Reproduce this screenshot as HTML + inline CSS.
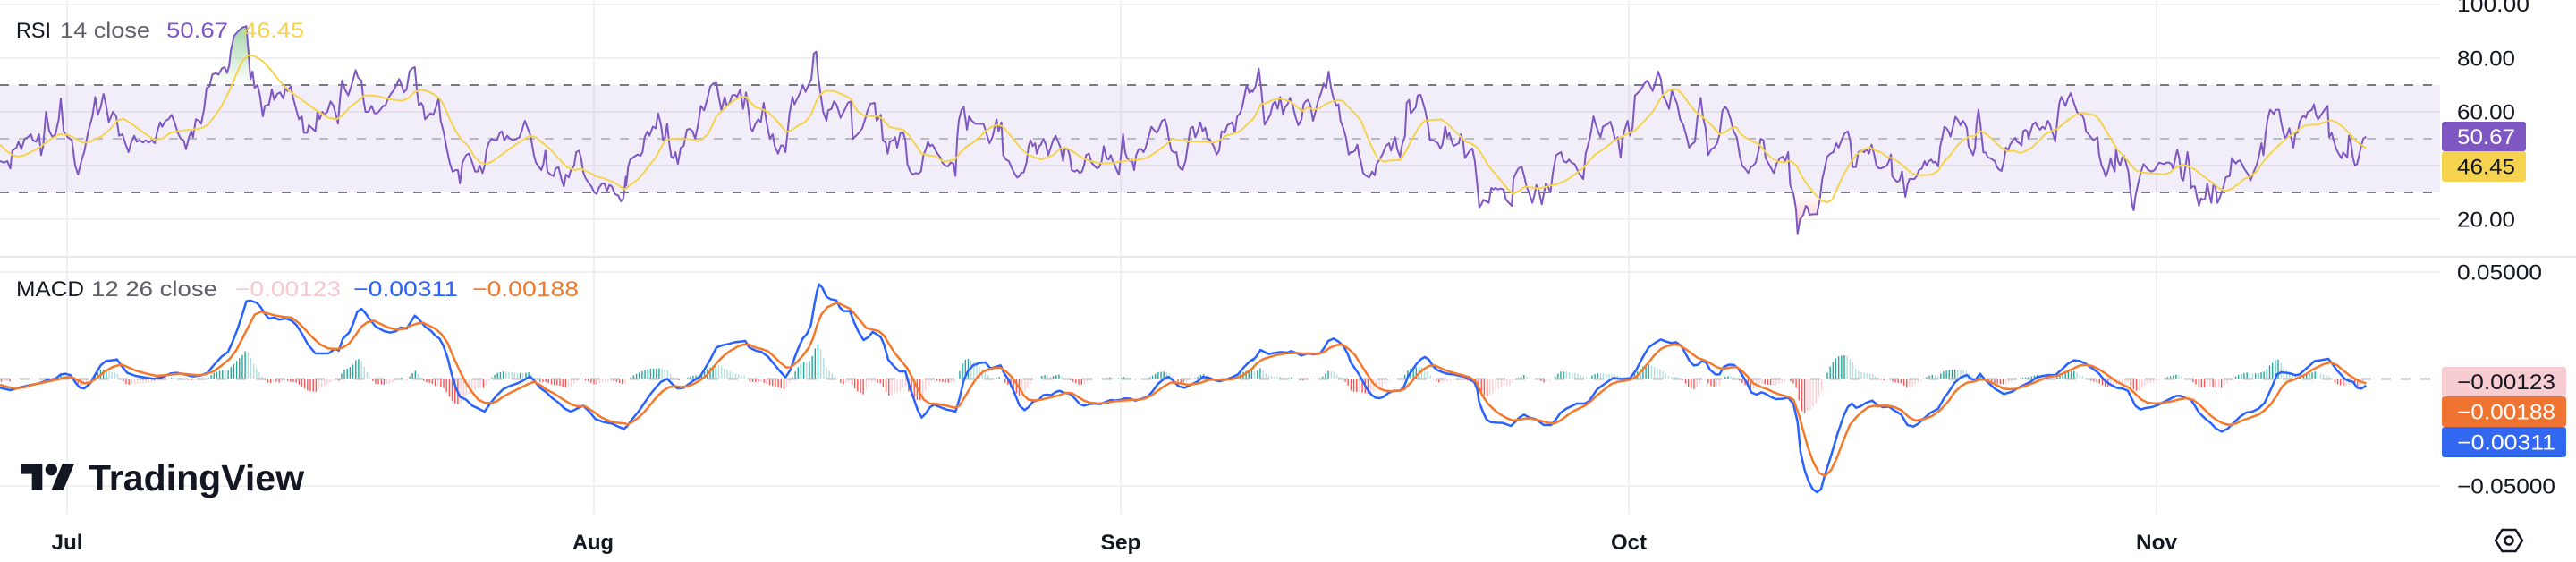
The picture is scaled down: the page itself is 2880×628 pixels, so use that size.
<!DOCTYPE html>
<html><head><meta charset="utf-8"><style>html,body{margin:0;padding:0;background:#fff}svg{display:block}text{font-family:"Liberation Sans",sans-serif}</style></head>
<body>
<svg xmlns="http://www.w3.org/2000/svg" width="2880" height="628" viewBox="0 0 2880 628">
<defs>
<polyline id="ra" vector-effect="non-scaling-stroke" points="0,540 10,545 18,540 25,565 30,505 40,495 45,475 52,500 60,465 68,460 75,450 80,470 88,475 95,450 100,520 105,490 112,375 120,440 128,460 135,450 143,400 148,330 155,440 165,460 175,470 183,555 190,585 200,530 205,510 215,440 225,390 232,325 238,385 245,360 252,315 258,350 265,410 275,375 283,390 290,455 298,450 305,480 313,510 320,475 327,455 333,475 340,470 348,478 355,470 362,478 370,470 377,480 383,440 390,410 395,425 403,405 410,400 418,385 425,410 433,445 440,465 447,470 453,500 460,460 466,440 470,460 477,400 485,405 490,415 497,365 503,295 510,290 517,250 525,245 532,250 540,230 547,225 553,245 558,220 562,170 570,120 580,105 590,92 600,88 605,175 610,265 615,240 620,295 627,285 633,320 640,390 645,355 655,350 662,300 668,335 675,315 682,310 690,330 695,295 700,305 708,290 715,335 722,370 728,400 735,390 740,445 748,445 752,420 760,430 768,440 773,375 778,400 785,375 790,385 797,375 805,340 812,355 818,385 823,415 828,330 833,270 840,300 848,320 855,290 860,265 866,235 872,260 880,270 885,335 890,375 897,375 905,355 912,380 918,380 925,370 933,355 938,355 945,330 952,315 960,300 967,280 972,265 978,285 983,310 990,300 997,240 1003,230 1010,225 1015,300 1020,355 1025,345 1030,355 1035,400 1042,390 1048,380 1055,385 1060,365 1068,330 1073,405 1080,440 1088,500 1095,545 1102,575 1110,570 1115,570 1120,615 1126,545 1135,520 1142,515 1150,545 1157,575 1163,575 1168,555 1175,580 1180,555 1185,500 1190,480 1197,465 1203,470 1210,470 1217,445 1222,440 1228,470 1235,455 1242,465 1250,470 1258,465 1265,460 1270,440 1278,405 1285,430 1292,455 1300,520 1305,545 1310,555 1318,570 1323,550 1328,505 1333,575 1340,585 1348,590 1353,565 1360,560 1367,600 1373,625 1378,585 1385,595 1390,570 1398,555 1403,510 1410,505 1415,530 1420,575 1425,595 1432,610 1440,625 1447,645 1453,650 1458,630 1466,615 1472,615 1478,640 1484,620 1490,625 1497,650 1505,655 1512,675 1518,665 1524,590"/>
<polyline id="rb" vector-effect="non-scaling-stroke" points="0,625 5,560 10,535 20,525 28,518 35,522 40,510 45,460 52,440 57,455 65,425 72,430 78,380 85,420 90,470 95,460 100,415 105,480 110,525 115,530 120,510 126,550 133,495 140,490 148,435 155,432 162,440 168,465 175,420 182,355 190,370 197,335 205,290 212,280 220,278 225,320 232,370 240,325 245,355 252,345 258,320 265,318 270,325 278,300 285,365 292,310 298,370 303,430 308,440 315,415 322,400 328,410 335,345 342,410 350,465 357,450 362,490 370,515 377,488 383,488 388,510 393,445 398,380 405,325 410,350 417,330 424,310 430,285 437,308 444,285 451,265 457,180 463,173 468,260 475,330 480,375 488,405 492,370 500,365 506,340 512,350 518,375 522,395 528,380 535,360 540,345 547,340 552,465 560,455 567,445 575,430 582,400 588,370 595,348 605,345 610,405 615,395 620,385 625,470 632,478 637,515 642,475 650,470 655,460 660,495 668,445 675,445 680,470 685,550 692,575 698,585 705,580 712,582 718,575 724,520 730,500 735,475 740,490 746,485 752,500 758,515 764,525 770,545 777,555 784,558 790,545 797,548 802,590 806,465 810,405 816,370 822,358 830,435 835,390 842,405 850,415 860,415 870,415 875,435 880,460 885,480 892,460 897,430 902,400 907,440 914,410 918,520 925,535 932,540 938,560 945,580 952,595 958,590 962,580 968,578 975,545 980,490 985,470 990,490 996,480 1000,515 1006,490 1010,485 1016,465 1022,485 1028,520 1035,490 1040,470 1046,455 1052,475 1058,495 1064,540 1068,500 1075,498 1080,520 1085,570 1092,575 1098,570 1105,580 1110,575 1115,555 1120,520 1127,515 1133,545 1140,555 1147,565 1152,560 1158,540 1163,490 1170,530 1175,535 1180,520 1185,540 1190,555 1196,575 1200,585 1205,520 1210,450 1215,510 1220,530 1227,540 1232,535 1237,570 1242,520 1248,500 1255,500 1260,510 1265,495 1272,460 1279,425 1285,435 1292,445 1298,430 1305,405 1312,400 1317,425 1322,470 1328,505 1335,512 1340,510 1345,555 1350,565 1355,570 1362,540 1368,485 1374,430 1380,425 1386,460 1392,440 1398,410 1404,440 1410,428 1416,465 1422,470 1430,488 1438,518 1444,505 1450,440 1458,445 1464,420 1470,415 1476,410 1482,445 1488,390 1495,380 1500,360 1506,320 1511,285 1518,312 1525,302"/>
<polyline id="rc" vector-effect="non-scaling-stroke" points="0,310 8,290 16,230 22,300 30,418 38,400 44,385 50,350 56,340 62,365 68,325 75,382 80,360 86,350 92,328 98,350 105,390 112,420 120,400 125,350 130,340 136,335 142,355 148,405 155,370 160,340 168,310 174,280 180,295 186,240 192,295 198,330 205,355 210,350 215,405 222,430 228,460 235,518 240,510 245,510 250,505 256,485 260,520 265,545 270,580 278,590 285,595 292,575 298,588 303,550 310,535 318,515 325,490 333,480 338,505 343,480 348,460 353,500 360,525 365,485 372,455 376,345 382,335 386,380 392,370 398,360 403,320 410,318 416,345 422,375 428,420 433,470 440,470 447,475 452,480 458,498 463,485 470,425 475,460 480,445 485,470 490,490 496,485 503,480 508,450 513,470 518,530 525,515 530,505 536,498 542,540 548,620 553,695 558,685 563,670 570,675 576,680 582,630 587,635 592,630 598,635 605,632 612,635 618,670 625,680 632,690 636,600 642,580 648,565 656,558 662,590 668,625 675,650 682,680 687,655 692,620 698,640 705,685 710,650 715,615 720,625 726,645 732,580 740,520 746,515 752,510 758,540 765,545 771,535 778,545 785,550 792,570 798,585 806,600 812,515 818,485 824,450 831,390 836,415 842,440 848,460 854,425 860,420 866,415 872,408 878,435 884,470 890,460 897,528 902,460 907,435 914,405 920,455 926,430 932,320 940,310 947,300 955,280 962,270 968,285 975,305 982,275 988,240 995,265 1000,320 1008,340 1015,365 1022,305 1028,325 1035,350 1042,400 1050,420 1058,460 1064,495 1070,485 1078,475 1084,395 1092,328 1098,395 1104,430 1110,520 1118,500 1125,495 1132,480 1138,450 1145,370 1152,358 1158,370 1165,400 1172,440 1180,460 1187,520 1193,555 1200,565 1208,580 1214,560 1220,555 1226,545 1233,505 1238,465 1245,470 1250,530 1256,545 1262,560 1270,580 1278,545 1285,530 1292,525 1298,540 1305,510 1310,620 1318,650 1324,700 1328,785 1334,735 1342,720 1348,690 1352,695 1357,720 1365,718 1375,718 1382,670 1388,600 1394,565 1400,525 1408,515 1415,510 1422,480 1428,495 1435,470 1442,448 1450,440 1456,470 1462,560 1470,560 1476,510 1482,505 1490,510 1496,500 1502,515 1508,485 1514,515 1520,555 1527,565"/>
<polyline id="rd" vector-effect="non-scaling-stroke" points="172,562 180,565 188,560 195,555 200,540 205,518 208,590 213,600 220,610 226,605 232,575 236,620 240,660 245,620 250,600 255,600 262,600 268,590 273,570 280,565 287,540 292,555 297,540 303,535 308,545 313,542 320,558 325,490 330,460 335,425 340,430 345,440 350,458 355,430 362,392 368,402 374,420 380,405 385,415 390,430 394,490 400,505 405,520 410,495 413,420 418,368 423,420 430,510 436,512 441,528 447,530 452,535 458,540 463,560 468,568 474,573 480,540 485,495 490,505 495,485 502,470 508,462 512,475 518,480 523,488 527,440 532,435 537,440 540,465 545,440 550,418 557,410 562,425 568,435 574,425 580,432 587,405 592,418 597,440 601,455 605,475 610,405 615,345 620,325 625,340 630,355 636,330 643,312 648,335 653,355 658,375 665,385 670,385 675,400 680,440 686,450 692,460 698,470 703,465 708,460 712,520 718,555 723,570 728,592 734,570 740,530 744,555 750,575 753,500 758,540 763,555 768,528 773,522 778,550 783,575 788,640 792,685 796,705 800,660 806,620 813,580 820,550 826,560 832,570 840,575 847,570 853,555 858,545 865,548 870,550 876,545 882,545 888,550 892,568 898,525 902,502 907,530 912,595 917,605 922,560 927,510 932,560 936,630 940,625 945,625 950,660 955,690 960,665 965,670 970,665 975,615 980,650 985,680 990,620 995,625 1000,680 1005,665 1010,645 1015,625 1020,595 1025,592 1030,590 1035,530 1040,540 1045,548 1050,540 1055,538 1060,550 1065,565 1070,575 1075,585 1080,605 1085,590 1090,570 1095,555 1100,530 1107,480 1112,520 1117,450 1122,400 1128,368 1133,375 1137,382 1142,368 1150,368 1155,410 1160,440 1165,468 1170,450 1175,430 1180,465 1185,495 1190,445 1195,445 1200,410 1205,395 1210,388 1215,395 1220,375 1225,372 1230,368 1235,350 1240,385 1245,400 1250,390 1255,380 1260,370 1265,360 1268,355 1272,460 1278,445 1283,470 1288,495 1293,510 1298,522 1302,530 1306,512 1312,520 1316,528 1320,455 1325,480 1330,530 1335,555 1340,550 1345,520 1350,490 1355,465 1362,458"/>
<polyline id="ya" vector-effect="non-scaling-stroke" points="0,485 15,505 30,520 45,525 60,520 75,510 95,495 110,480 125,465 145,450 165,452 185,465 200,478 215,478 230,468 250,455 270,430 285,405 300,398 315,410 335,430 355,450 375,468 395,465 415,445 440,438 465,435 490,430 505,420 520,395 540,355 560,300 575,250 590,205 605,185 620,188 640,205 660,235 680,270 700,300 720,320 740,340 760,360 780,378 800,395 820,400 835,385 850,362 870,340 885,322 900,320 920,322 940,330 960,335 980,338 995,328 1010,308 1025,302 1040,305 1055,315 1070,330 1080,350 1095,400 1110,440 1125,470 1140,490 1155,525 1170,545 1185,550 1200,540 1215,525 1230,510 1250,490 1270,472 1290,455 1305,460 1320,478 1340,500 1360,530 1380,560 1400,570 1415,565 1430,575 1450,590 1470,598 1490,608 1505,620 1520,635 1525,632"/>
<polyline id="yb" vector-effect="non-scaling-stroke" points="0,632 15,615 30,600 45,575 60,548 72,528 85,495 95,470 110,465 130,466 150,466 165,468 175,474 185,468 200,448 210,420 220,388 235,370 250,350 265,335 280,325 292,325 300,338 315,360 330,365 345,375 360,395 375,418 390,443 405,435 420,420 435,410 450,385 460,350 470,320 485,305 505,305 520,313 535,322 548,332 555,355 565,375 580,388 600,390 615,390 625,400 640,425 655,430 675,435 690,455 705,485 720,515 735,520 755,525 770,540 785,540 800,535 815,510 830,490 845,478 860,460 875,440 890,425 905,418 918,425 930,445 945,470 960,495 975,515 990,525 1010,535 1025,528 1040,520 1055,500 1070,495 1085,505 1100,520 1115,532 1130,540 1150,546 1170,548 1190,545 1210,540 1230,537 1250,535 1270,528 1290,510 1310,490 1330,466 1350,470 1370,474 1390,474 1410,475 1430,478 1445,470 1460,455 1480,448 1495,440 1510,420 1525,400"/>
<polyline id="yc" vector-effect="non-scaling-stroke" points="0,405 10,380 20,350 35,345 50,335 65,330 80,335 95,342 110,360 122,372 135,360 150,368 165,362 180,348 195,340 210,335 222,340 235,360 250,380 265,405 275,440 290,490 305,530 320,542 335,538 350,537 362,535 375,505 390,465 405,428 420,405 440,402 460,400 475,415 490,435 505,455 520,475 535,482 548,495 560,520 575,555 590,580 605,605 620,630 635,650 650,640 665,625 680,628 695,632 710,628 725,622 740,618 760,608 775,595 790,580 805,565 820,540 835,518 850,505 865,490 880,472 895,462 905,455 918,445 930,440 945,420 960,398 975,375 990,340 1000,318 1012,305 1025,298 1035,300 1050,320 1065,350 1080,375 1095,390 1110,408 1125,430 1138,450 1150,445 1165,430 1178,425 1190,450 1205,465 1220,475 1235,485 1250,510 1265,530 1280,542 1295,545 1310,538 1325,555 1340,595 1355,625 1370,650 1385,672 1400,678 1412,670 1425,630 1440,585 1455,550 1470,520 1490,500 1505,495 1520,505 1527,510"/>
<polyline id="yd" vector-effect="non-scaling-stroke" points="172,507 180,510 195,525 210,532 225,545 240,562 255,580 270,587 290,587 305,585 320,572 335,540 350,520 365,490 380,470 395,458 410,455 420,438 432,445 445,458 460,478 475,497 490,507 505,505 520,513 535,505 550,493 565,472 580,450 595,440 610,432 625,415 640,398 655,385 670,378 685,382 700,385 712,400 725,430 740,465 755,500 770,520 785,545 800,570 815,578 830,580 850,582 870,585 885,578 900,560 915,552 930,558 945,568 960,585 975,600 990,615 1005,632 1020,640 1035,632 1050,618 1065,600 1080,592 1095,575 1110,545 1125,520 1140,500 1155,480 1170,462 1185,448 1200,432 1215,420 1230,418 1245,418 1260,410 1275,403 1290,410 1305,425 1320,445 1335,470 1350,485 1362,497"/>
<polyline id="eb" vector-effect="non-scaling-stroke" points="0,460 25,468 45,460 70,452 95,445 115,435 135,430 148,415 160,413 172,418 185,445 195,460 205,462 220,445 232,415 245,385 258,370 272,368 285,365 295,385 310,410 330,420 350,425 375,430 395,425 415,412 430,410 450,415 470,422 490,418 505,410 520,385 540,355 555,340 565,310 578,265 590,215 600,170 610,168 625,175 635,190 645,212 655,228 668,225 680,232 695,228 710,235 722,250 735,278 750,315 768,345 785,345 800,345 815,330 825,335 835,295 850,275 860,245 870,205 880,195 890,210 900,230 915,255 935,270 950,275 965,270 975,258 990,262 1000,240 1010,218 1020,230 1035,255 1050,270 1060,285 1070,295 1080,320 1090,360 1100,415 1110,460 1120,490 1135,500 1150,520 1165,530 1180,540 1195,510 1210,485 1225,465 1240,455 1260,445 1275,435 1290,422 1300,435 1315,460 1330,475 1345,495 1360,510 1375,530 1390,540 1405,530 1420,520 1435,540 1450,565 1470,575 1490,580 1505,590 1520,598 1525,590"/>
<polyline id="eo" vector-effect="non-scaling-stroke" points="0,450 20,458 40,462 60,458 80,450 100,444 120,438 140,432 160,425 175,425 190,435 205,445 220,442 235,428 255,405 275,390 295,382 310,390 330,402 355,412 380,420 400,418 420,415 440,412 460,415 480,418 500,415 520,405 540,385 560,362 575,335 590,295 605,255 620,215 635,205 650,210 670,218 690,222 710,225 725,240 740,260 760,290 780,315 800,328 820,330 835,325 850,312 865,285 880,255 895,240 910,235 925,245 945,258 965,265 985,262 1000,252 1015,245 1030,242 1045,252 1060,262 1075,280 1090,310 1105,360 1120,405 1135,445 1150,475 1165,500 1180,510 1195,512 1210,505 1225,490 1245,475 1265,462 1285,448 1300,440 1315,450 1330,465 1350,480 1370,498 1390,515 1405,522 1425,522 1445,540 1465,560 1485,572 1505,578 1525,580"/>
<polyline id="fb" vector-effect="non-scaling-stroke" points="0,578 15,550 30,525 45,495 60,465 75,440 85,425 100,415 112,432 125,447 140,445 150,435 165,420 180,408 190,385 205,350 220,310 235,302 250,298 265,292 280,290 290,288 300,310 315,320 330,325 345,340 360,365 375,390 388,410 400,385 410,345 420,310 430,280 440,265 450,235 458,170 465,120 470,98 478,110 488,140 498,148 512,152 520,175 530,188 545,188 555,225 565,255 578,285 590,275 600,258 610,265 620,275 628,300 638,350 650,370 665,390 680,390 690,440 700,480 710,520 720,545 730,530 740,510 750,502 765,510 780,518 795,522 802,525 812,480 822,420 832,390 845,370 860,362 875,360 887,380 900,375 912,370 920,395 932,420 945,460 958,505 970,520 980,510 990,492 1005,485 1015,470 1025,468 1035,470 1045,460 1055,455 1068,462 1080,465 1092,480 1105,500 1115,505 1128,500 1140,498 1155,500 1168,492 1180,486 1192,488 1205,485 1215,480 1228,482 1240,488 1255,482 1270,475 1283,455 1295,432 1310,415 1320,408 1330,418 1345,440 1360,445 1375,435 1390,425 1405,408 1420,412 1435,420 1445,423 1460,418 1475,410 1490,400 1505,375 1520,355 1528,348"/>
<polyline id="fo" vector-effect="non-scaling-stroke" points="0,570 15,560 30,545 45,525 60,500 75,475 90,455 105,443 120,440 135,443 150,440 165,432 180,420 195,405 210,380 225,355 240,335 255,320 270,308 285,300 300,300 315,310 330,315 345,322 360,340 375,360 390,377 400,377 415,360 430,338 445,310 455,280 465,235 475,200 490,175 505,165 515,160 530,170 545,180 558,200 570,220 585,245 600,250 615,255 628,270 640,298 655,330 670,355 685,380 700,420 715,462 725,485 740,498 760,500 780,505 800,512 812,505 825,475 840,440 855,410 870,390 885,382 900,378 912,378 925,390 940,410 955,440 968,470 980,485 995,488 1010,485 1025,480 1040,475 1055,470 1070,462 1085,463 1100,475 1115,488 1130,495 1150,498 1170,495 1190,490 1210,488 1230,486 1250,485 1265,480 1280,470 1295,455 1310,440 1325,428 1340,428 1355,432 1370,435 1385,432 1400,428 1420,418 1440,418 1460,418 1480,415 1500,405 1520,385 1528,378"/>
<polyline id="gb" vector-effect="non-scaling-stroke" points="0,355 10,340 20,318 30,325 40,332 55,328 70,325 85,327 95,322 110,330 120,337 135,330 150,333 165,330 175,312 185,288 198,280 210,290 222,305 232,330 240,360 250,380 260,400 270,425 280,450 290,468 300,478 310,480 320,475 332,462 345,455 360,455 370,440 380,405 390,385 400,365 410,350 420,342 430,350 440,372 450,385 462,392 475,398 490,400 505,405 518,408 530,418 540,425 548,450 552,490 560,520 570,550 580,560 595,562 610,563 620,568 630,573 640,560 650,545 662,535 675,545 690,550 700,560 710,570 728,570 740,550 750,530 765,515 780,505 790,498 810,498 820,490 830,470 840,450 855,435 870,420 880,412 895,415 905,415 920,413 935,385 950,345 965,310 980,295 995,283 1008,290 1020,295 1032,292 1045,305 1055,330 1065,355 1075,370 1085,368 1095,355 1105,360 1115,385 1128,400 1138,400 1148,375 1160,368 1172,368 1182,378 1192,400 1205,430 1215,460 1228,468 1240,460 1250,465 1262,475 1275,483 1290,482 1305,478 1318,500 1328,560 1335,660 1345,720 1355,760 1365,785 1375,795 1385,785 1395,735 1410,670 1425,600 1440,540 1450,510 1460,498 1470,512 1480,508 1495,495 1510,488 1520,500 1528,505"/>
<polyline id="go" vector-effect="non-scaling-stroke" points="0,380 10,365 25,350 40,343 60,335 80,330 100,328 120,330 140,330 160,332 175,325 190,310 205,302 220,300 235,315 250,335 265,368 280,400 295,430 310,448 325,455 340,457 355,455 370,450 385,430 400,405 415,385 430,372 445,370 460,380 475,388 490,395 510,402 530,410 545,425 560,470 575,500 590,520 605,535 620,547 635,555 650,552 665,548 680,548 700,555 720,562 735,565 750,555 765,540 780,525 795,515 810,505 825,490 840,470 860,448 875,432 890,425 905,422 920,418 935,408 950,385 965,360 980,335 995,315 1010,305 1025,300 1040,302 1055,315 1070,330 1085,345 1100,352 1115,362 1130,375 1145,382 1160,378 1178,375 1190,385 1205,405 1220,430 1235,440 1255,450 1270,460 1285,468 1305,475 1318,485 1330,530 1340,580 1352,640 1365,690 1380,730 1395,740 1410,720 1425,675 1440,620 1455,570 1470,545 1485,525 1500,510 1515,505 1528,508"/>
<polyline id="hb" vector-effect="non-scaling-stroke" points="172,502 185,510 200,508 212,520 230,535 245,570 260,575 272,565 285,548 300,530 320,515 335,478 345,460 360,428 375,410 390,402 400,415 410,420 422,398 432,415 445,432 460,450 480,466 500,458 515,445 530,435 545,425 560,410 575,405 590,402 605,403 620,385 635,365 650,353 665,355 680,365 695,380 710,395 725,420 740,435 755,445 770,448 782,455 790,478 800,505 812,518 825,513 840,510 855,503 870,492 885,482 900,472 910,472 920,478 935,485 945,505 955,528 970,548 985,565 995,580 1010,592 1025,582 1040,562 1055,542 1070,528 1085,525 1100,515 1115,495 1125,465 1135,435 1145,400 1155,393 1168,395 1180,398 1190,403 1200,400 1215,382 1225,370 1237,355 1250,353 1262,350 1270,348 1280,365 1290,385 1300,400 1310,415 1320,422 1330,425 1340,445 1350,448 1362,438"/>
<polyline id="ho" vector-effect="non-scaling-stroke" points="172,505 195,505 210,508 230,520 250,545 265,555 285,550 305,540 325,520 345,490 360,460 375,440 390,428 405,425 420,418 435,418 450,428 465,438 480,448 495,450 510,448 530,440 550,430 570,418 590,408 610,405 630,393 650,380 665,370 680,368 695,372 710,382 725,395 740,410 755,425 770,435 785,445 800,465 815,485 830,495 850,498 870,495 890,490 910,483 925,480 940,485 955,500 970,520 985,540 1000,555 1015,565 1030,570 1045,565 1060,555 1080,545 1100,535 1115,520 1130,500 1145,470 1158,440 1170,425 1185,418 1200,410 1215,400 1230,385 1245,375 1260,365 1275,360 1290,368 1305,385 1320,402 1335,415 1350,425 1362,430"/>
<linearGradient id="gob" gradientUnits="userSpaceOnUse" x1="0" y1="15" x2="0" y2="285"><stop offset="0" stop-color="#4caf50" stop-opacity="0.7"/><stop offset="1" stop-color="#4caf50" stop-opacity="0"/></linearGradient>
<linearGradient id="gos" gradientUnits="userSpaceOnUse" x1="0" y1="645" x2="0" y2="915"><stop offset="0" stop-color="#ff5252" stop-opacity="0"/><stop offset="1" stop-color="#ff5252" stop-opacity="0.7"/></linearGradient>
<clipPath id="cob"><rect x="0" y="0" width="2728" height="95"/></clipPath>
<clipPath id="cos"><rect x="0" y="215" width="2728" height="72"/></clipPath>
</defs>

<rect x="0" y="0" width="2880" height="628" fill="#ffffff"/>

<g stroke="#f0f0f3" stroke-width="2">
<line x1="0" y1="5" x2="2728" y2="5"/>
<line x1="0" y1="65" x2="2728" y2="65"/>
<line x1="0" y1="125" x2="2728" y2="125"/>
<line x1="0" y1="185" x2="2728" y2="185"/>
<line x1="0" y1="245" x2="2728" y2="245"/>
<line x1="0" y1="304" x2="2728" y2="304"/>
<line x1="0" y1="543" x2="2728" y2="543"/>
<line x1="75" y1="0" x2="75" y2="575"/>
<line x1="664" y1="0" x2="664" y2="575"/>
<line x1="1253" y1="0" x2="1253" y2="575"/>
<line x1="1821" y1="0" x2="1821" y2="575"/>
<line x1="2411" y1="0" x2="2411" y2="575"/>
</g>
<line x1="0" y1="287" x2="2880" y2="287" stroke="#e6e7eb" stroke-width="2"/>

<rect x="0" y="95" width="2728" height="120" fill="rgba(126,87,194,0.1)"/>
<line x1="0" y1="95" x2="2728" y2="95" stroke="#787b86" stroke-width="2" stroke-dasharray="10 11"/>
<line x1="0" y1="215" x2="2728" y2="215" stroke="#787b86" stroke-width="2" stroke-dasharray="10 11"/>
<line x1="0" y1="155" x2="2728" y2="155" stroke="#b9bbc3" stroke-width="2" stroke-dasharray="10 11"/>

<g clip-path="url(#cob)" fill="url(#gob)" stroke="none">
<use href="#ra" transform="scale(0.459137,0.333333)"/>
<use href="#rb" transform="translate(700,0) scale(0.459137,0.333333)"/>
<use href="#rc" transform="translate(1400,0) scale(0.459137,0.333333)"/>
<use href="#rd" transform="translate(2020,0) scale(0.459137,0.333333)"/>
</g>
<g clip-path="url(#cos)" fill="url(#gos)" stroke="none">
<use href="#ra" transform="scale(0.459137,0.333333)"/>
<use href="#rb" transform="translate(700,0) scale(0.459137,0.333333)"/>
<use href="#rc" transform="translate(1400,0) scale(0.459137,0.333333)"/>
<use href="#rd" transform="translate(2020,0) scale(0.459137,0.333333)"/>
</g>

<g fill="none" stroke="#7e57c2" stroke-width="2" stroke-linejoin="round">
<use href="#ra" transform="scale(0.459137,0.333333)"/>
<use href="#rb" transform="translate(700,0) scale(0.459137,0.333333)"/>
<use href="#rc" transform="translate(1400,0) scale(0.459137,0.333333)"/>
<use href="#rd" transform="translate(2020,0) scale(0.459137,0.333333)"/>
</g>
<g fill="none" stroke="#f5d34f" stroke-width="2" stroke-linejoin="round">
<use href="#ya" transform="scale(0.459137,0.333333)"/>
<use href="#yb" transform="translate(700,0) scale(0.459137,0.333333)"/>
<use href="#yc" transform="translate(1400,0) scale(0.459137,0.333333)"/>
<use href="#yd" transform="translate(2020,0) scale(0.459137,0.333333)"/>
</g>

<g id="hist"></g>
<line x1="0" y1="423.5" x2="2728" y2="423.5" stroke="#b3b5bd" stroke-width="2" stroke-dasharray="11 11"/>

<g fill="none" stroke="#2962ff" stroke-width="2.5" stroke-linejoin="round">
<use href="#eb" transform="translate(0,280) scale(0.459137,0.333333)"/>
<use href="#fb" transform="translate(700,285) scale(0.459137,0.333333)"/>
<use href="#gb" transform="translate(1400,285) scale(0.459137,0.333333)"/>
<use href="#hb" transform="translate(2020,285) scale(0.459137,0.333333)"/>
</g>
<g fill="none" stroke="#f5792c" stroke-width="2.5" stroke-linejoin="round">
<use href="#eo" transform="translate(0,280) scale(0.459137,0.333333)"/>
<use href="#fo" transform="translate(700,285) scale(0.459137,0.333333)"/>
<use href="#go" transform="translate(1400,285) scale(0.459137,0.333333)"/>
<use href="#ho" transform="translate(2020,285) scale(0.459137,0.333333)"/>
</g>

<g font-size="24">
<text x="18" y="42" fill="#131722" textLength="39" lengthAdjust="spacingAndGlyphs">RSI</text>
<text x="67" y="42" fill="#5d606b" textLength="101" lengthAdjust="spacingAndGlyphs">14 close</text>
<text x="186" y="42" fill="#7e57c2" textLength="69" lengthAdjust="spacingAndGlyphs">50.67</text>
<text x="272" y="42" fill="#f5d34f" textLength="68" lengthAdjust="spacingAndGlyphs">46.45</text>
<text x="18" y="331" fill="#131722" textLength="76" lengthAdjust="spacingAndGlyphs">MACD</text>
<text x="102" y="331" fill="#5d606b" textLength="141" lengthAdjust="spacingAndGlyphs">12 26 close</text>
<text x="263" y="331" fill="#f9c9ce" textLength="118" lengthAdjust="spacingAndGlyphs">−0.00123</text>
<text x="395" y="331" fill="#2962ff" textLength="117" lengthAdjust="spacingAndGlyphs">−0.00311</text>
<text x="528" y="331" fill="#f5792c" textLength="119" lengthAdjust="spacingAndGlyphs">−0.00188</text>
</g>

<g font-size="24" fill="#131722">
<text x="2747" y="13" textLength="81" lengthAdjust="spacingAndGlyphs">100.00</text>
<text x="2747" y="73.5" textLength="65" lengthAdjust="spacingAndGlyphs">80.00</text>
<text x="2747" y="133.5" textLength="65" lengthAdjust="spacingAndGlyphs">60.00</text>
<text x="2747" y="253.5" textLength="65" lengthAdjust="spacingAndGlyphs">20.00</text>
<text x="2747" y="312.5" textLength="95" lengthAdjust="spacingAndGlyphs">0.05000</text>
<text x="2747" y="551.5" textLength="110" lengthAdjust="spacingAndGlyphs">−0.05000</text>
</g>
<rect x="2730" y="136" width="94" height="33" rx="3" fill="#7e57c2"/>
<text x="2747" y="161" font-size="24" fill="#ffffff" textLength="65" lengthAdjust="spacingAndGlyphs">50.67</text>
<rect x="2730" y="169" width="94" height="34" rx="3" fill="#f5d34f"/>
<text x="2747" y="194.5" font-size="24" fill="#131722" textLength="65" lengthAdjust="spacingAndGlyphs">46.45</text>
<rect x="2730" y="410" width="139" height="33" rx="3" fill="#f8cdd2"/>
<text x="2747" y="435" font-size="24" fill="#131722" textLength="110" lengthAdjust="spacingAndGlyphs">−0.00123</text>
<rect x="2730" y="443" width="139" height="34" rx="3" fill="#ef7431"/>
<text x="2747" y="468.5" font-size="24" fill="#ffffff" textLength="110" lengthAdjust="spacingAndGlyphs">−0.00188</text>
<rect x="2730" y="477" width="139" height="34" rx="3" fill="#3267f2"/>
<text x="2747" y="502.5" font-size="24" fill="#ffffff" textLength="110" lengthAdjust="spacingAndGlyphs">−0.00311</text>

<g font-size="24" font-weight="bold" fill="#131722" text-anchor="middle">
<text x="75" y="614" textLength="35" lengthAdjust="spacingAndGlyphs">Jul</text>
<text x="663" y="614" textLength="46" lengthAdjust="spacingAndGlyphs">Aug</text>
<text x="1253" y="614" textLength="45" lengthAdjust="spacingAndGlyphs">Sep</text>
<text x="1821" y="614" textLength="40" lengthAdjust="spacingAndGlyphs">Oct</text>
<text x="2411" y="614" textLength="46" lengthAdjust="spacingAndGlyphs">Nov</text>
</g>

<polygon points="2790,604 2797.5,592 2812.5,592 2820,604 2812.5,616 2797.5,616" fill="none" stroke="#131722" stroke-width="2.5" stroke-linejoin="round"/>
<circle cx="2805" cy="604" r="4.5" fill="none" stroke="#131722" stroke-width="2.5"/>

<g transform="translate(24,511.3) scale(1.667)" fill="#131722"><path d="M14 22H7V11H0V4h14v18zM28 22h-8l7.5-18h8L28 22z"/><circle cx="20" cy="8" r="4"/></g>
<text x="99" y="548" font-size="41" font-weight="bold" fill="#131722" textLength="241" lengthAdjust="spacingAndGlyphs">TradingView</text>
</svg>
<script>
(function(){
var K=1/2.178;
function P(id,ox,oy){var s=document.getElementById(id).getAttribute('points').trim().split(/\s+/);return s.map(function(p){var a=p.split(',');return [ox+(+a[0])*K, oy+(+a[1])/3];});}
var B=[].concat(P('eb',0,280),P('fb',700,285),P('gb',1400,285),P('hb',2020,285));
var O=[].concat(P('eo',0,280),P('fo',700,285),P('go',1400,285),P('ho',2020,285));
function I(A,x){for(var i=0;i<A.length-1;i++){if(A[i][0]<=x&&A[i+1][0]>=x){var d=A[i+1][0]-A[i][0];var t=d?(x-A[i][0])/d:0;return A[i][1]+t*(A[i+1][1]-A[i][1]);}}return null;}
var g=document.getElementById('hist');var NS='http://www.w3.org/2000/svg';var y0=423.5;var prev=0;
for(var x=1.5;x<2645;x+=3.17){var b=I(B,x),o=I(O,x);if(b===null||o===null)continue;var h=o-b;var c;
if(h>=0){c=(h>=prev)?'#26a69a':'#b2dfdb';}else{c=(h<=prev)?'#ff5252':'#ffcdd2';}
prev=h;var r=document.createElementNS(NS,'rect');r.setAttribute('x',(x-0.7).toFixed(2));r.setAttribute('width','1.4');
r.setAttribute('y',Math.min(y0,y0-h).toFixed(2));r.setAttribute('height',Math.max(0.5,Math.abs(h)).toFixed(2));r.setAttribute('fill',c);g.appendChild(r);}
})();
</script>
</body></html>
